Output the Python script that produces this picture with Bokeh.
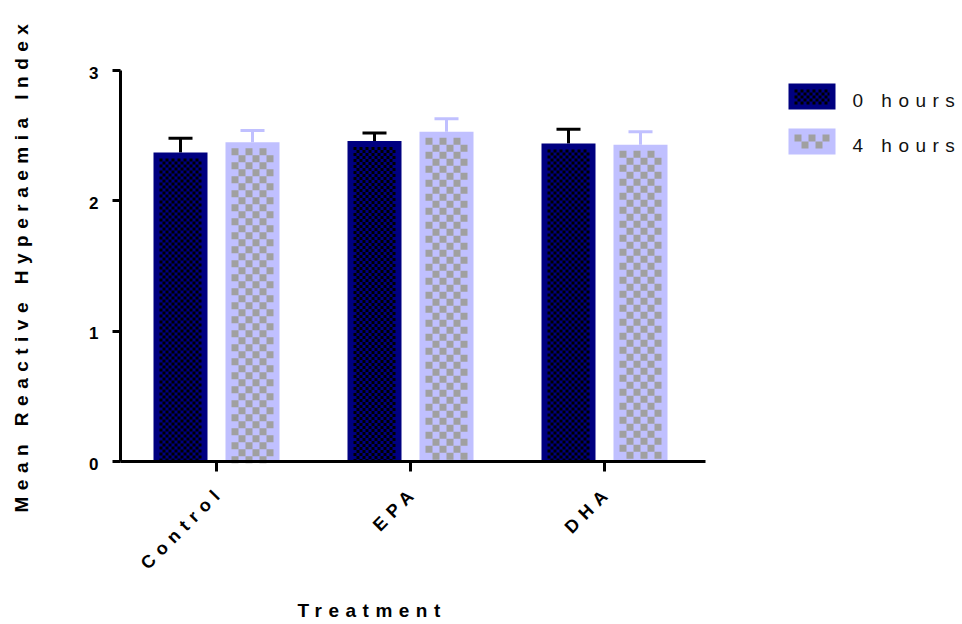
import math
from bokeh.plotting import figure
from bokeh.models import (Range1d, ColumnDataSource, Whisker, TeeHead, LabelSet, Label,
                          FixedTicker)
from bokeh.core.properties import value
from bokeh.embed import file_html
from bokeh.resources import INLINE

# ---- data ----
treatments = ["Control", "EPA", "DHA"]
series_names = ["0 hours", "4 hours"]
mean_0h = [2.37, 2.46, 2.44]
sem_0h = [0.11, 0.06, 0.11]
mean_4h = [2.45, 2.53, 2.43]
sem_4h = [0.09, 0.10, 0.10]
y_ticks = [0, 1, 2, 3]
x_title = "Treatment"
y_title = "Mean Reactive Hyperaemia Index"

# ---- layout / style constants (screen pixels) ----
W, H = 962, 624
PX = 194.0            # px per category
PY = 391.0 / 3.0      # px per y unit
X0_PX, Y0_PX = 216.0, 461.0   # screen position of first category / y = 0
AX_LEFT_PX, AX_RIGHT_PX = 120.0, 705.0
NAVY, NAVY_CHK = "#000080", "#000000"
LAV, LAV_CHK = "#c0c0ff", "#a0a0a0"
OFF_PX = 36.0         # bar offset from group centre
BAR_HALF_PX = 27.0
INSET_PX = 6.0
CELL0, CELL4 = 3, 7   # checker cell sizes
FONT = "Liberation Sans"
LS = 6.5              # css letter spacing (px)
C45 = math.cos(math.pi / 4)


def dx(px):
    return px / PX


def dy(px):
    return px / PY


def xd(sx):
    return (sx - X0_PX) / PX


def yd(sy):
    return (Y0_PX - sy) / PY


def checker_rows(x_left, x_right, y_top, y_bottom, cell):
    """Row segments (in data units) of a checker pattern inside a rectangle."""
    n = int(round((y_top - y_bottom) * PY / cell))
    even = dict(x0=[], x1=[], y=[])
    odd = dict(x0=[], x1=[], y=[])
    for k in range(n):
        yy = y_top - dy((k + 0.5) * cell)
        d = even if k % 2 == 0 else odd
        d["x0"].append(x_left)
        d["x1"].append(x_right)
        d["y"].append(yy)
    return even, odd


def merge(acc, part):
    for k in acc:
        acc[k] += part[k]


p = figure(width=W, height=H, x_range=Range1d(xd(0), xd(W)), y_range=Range1d(yd(H), yd(0)),
           output_backend="svg", toolbar_location=None, min_border=0,
           x_axis_location="above", y_axis_location="right")
p.stylesheets = [":host { letter-spacing: %spx; }" % LS]
p.outline_line_color = None
p.grid.visible = False
p.background_fill_color = "white"
p.border_fill_color = "white"

xs = list(range(len(treatments)))
series = [
    (mean_0h, sem_0h, -OFF_PX, NAVY, NAVY_CHK, CELL0, "black"),
    (mean_4h, sem_4h, OFF_PX, LAV, LAV_CHK, CELL4, LAV),
]

for means, sems, off, fill, chk_col, cell, err_col in series:
    bx = [x + dx(off) for x in xs]
    src = ColumnDataSource(dict(x=bx, top=means, lo=means, hi=[m + s for m, s in zip(means, sems)]))
    p.vbar(x="x", top="top", width=dx(2 * BAR_HALF_PX), source=src, fill_color=fill, line_color=None)
    ev = dict(x0=[], x1=[], y=[])
    od = dict(x0=[], x1=[], y=[])
    for cx, m in zip(bx, means):
        e, o = checker_rows(cx - dx(BAR_HALF_PX - INSET_PX), cx + dx(BAR_HALF_PX - INSET_PX),
                            m - dy(INSET_PX), 0.0, cell)
        merge(ev, e)
        merge(od, o)
    for rows, doff in ((ev, 0), (od, cell)):
        p.segment(x0=rows["x0"], y0=rows["y"], x1=rows["x1"], y1=rows["y"], line_color=chk_col,
                  line_width=cell, line_dash="%d %d" % (cell, cell), line_dash_offset=doff,
                  line_cap="butt")
    p.add_layout(Whisker(source=src, base="x", lower="lo", upper="hi", line_color=err_col,
                         line_width=3, lower_head=None,
                         upper_head=TeeHead(size=24, line_color=err_col, line_width=3)))

# ---- axes ----
xa = p.xaxis[0]
xa.fixed_location = 0
xa.bounds = (xd(AX_LEFT_PX), xd(AX_RIGHT_PX))
xa.ticker = FixedTicker(ticks=xs)
xa.major_tick_out = 0
xa.major_tick_in = 10

ya = p.yaxis[0]
ya.fixed_location = xd(AX_LEFT_PX)
ya.bounds = (y_ticks[0], y_ticks[-1])
ya.ticker = FixedTicker(ticks=y_ticks)
ya.major_tick_out = 0
ya.major_tick_in = 8

for ax in (xa, ya):
    ax.axis_line_width = 3
    ax.axis_line_color = "black"
    ax.major_tick_line_width = 3
    ax.major_tick_line_color = "black"
    ax.minor_tick_line_color = None
    ax.major_label_text_font_size = "1px"
    ax.major_label_text_color = None
    ax.major_label_standoff = 0

# tick labels (letter spacing compensated for right alignment)
xlab = ColumnDataSource(dict(
    x=xs, y=[0] * len(xs), text=treatments,
    xo=[0 - (len(t) - 1) * LS * C45 for t in treatments],
    yo=[-32 - (len(t) - 1) * LS * C45 for t in treatments],
))
p.add_layout(LabelSet(x="x", y="y", text="text", source=xlab, angle=45, angle_units="deg",
                      x_offset="xo", y_offset="yo", text_align="right", text_baseline="middle",
                      text_font=value(FONT), text_font_style="bold", text_font_size="18px",
                      text_color="black"))

ylab = ColumnDataSource(dict(x=[xd(AX_LEFT_PX)] * len(y_ticks), y=y_ticks,
                             text=[str(t) for t in y_ticks]))
p.add_layout(LabelSet(x="x", y="y", text="text", source=ylab, x_offset=-22, y_offset=-2,
                      text_align="right", text_baseline="middle", text_font=value(FONT),
                      text_font_style="bold", text_font_size="17px", text_color="black"))

# axis titles
p.add_layout(Label(x=xd(297), y=yd(610), text=x_title, text_align="left",
                   text_baseline="alphabetic", text_font=FONT, text_font_style="bold",
                   text_font_size="19px", text_color="black"))
p.add_layout(Label(x=xd(21), y=yd(512), text=y_title, angle=90, angle_units="deg",
                   text_align="left", text_baseline="middle", text_font=FONT,
                   text_font_style="bold", text_font_size="19px", text_color="black"))

# ---- legend ----
LEG_X0, LEG_X1 = 788.0, 835.0
LEG_TOPS = [83.0, 128.0]
LEG_H = 26.0
leg_fill = [NAVY, LAV]
leg_chk = [NAVY_CHK, LAV_CHK]
leg_cell = [CELL0, CELL4]
p.quad(left=[xd(LEG_X0)] * 2, right=[xd(LEG_X1)] * 2, top=[yd(t) for t in LEG_TOPS],
       bottom=[yd(t + LEG_H) for t in LEG_TOPS], fill_color=leg_fill, line_color=None)
for t, col, cell in zip(LEG_TOPS, leg_chk, leg_cell):
    e, o = checker_rows(xd(LEG_X0 + INSET_PX), xd(LEG_X1 - INSET_PX),
                        yd(t + INSET_PX), yd(t + LEG_H - INSET_PX), cell)
    for rows, doff in ((e, 0), (o, cell)):
        if rows["y"]:
            p.segment(x0=rows["x0"], y0=rows["y"], x1=rows["x1"], y1=rows["y"], line_color=col,
                      line_width=cell, line_dash="%d %d" % (cell, cell), line_dash_offset=doff,
                      line_cap="butt")
p.text(x=[xd(852)] * 2, y=[yd(t + 17) for t in LEG_TOPS], text=series_names,
       text_font=value(FONT), text_font_size="19px", text_align="left",
       text_baseline="alphabetic", text_color="#111111")

open("out.html", "w").write(file_html(p, INLINE))
